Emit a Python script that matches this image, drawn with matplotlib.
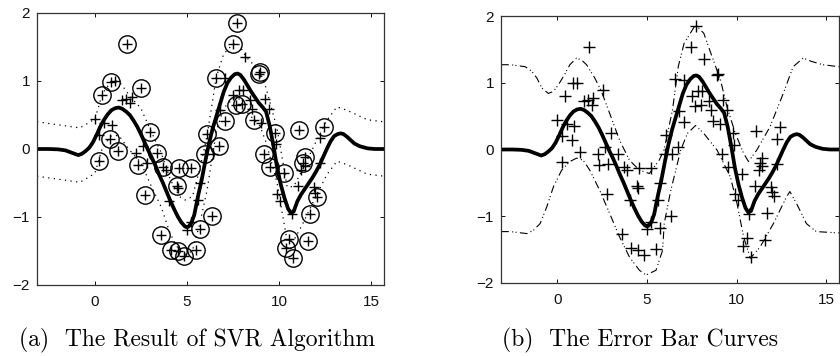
import numpy as np
import matplotlib
matplotlib.use("Agg")
import matplotlib.pyplot as plt

plt.rcParams['font.family'] = ['Liberation Sans', 'DejaVu Sans']

# training points (x, y); support vectors are circled in panel (a)
sv_x = [1.75, 0.89, 0.41, 2.52, 0.80, 0.25, 1.25, 3.02, 3.40, 2.35, 3.70, 2.75,
        4.55, 5.20, 4.45, 3.60, 4.12, 4.50, 4.86, 5.50, 5.70, 6.34, 6.08, 6.00,
        6.74, 7.05, 6.58, 7.48, 7.71, 7.65, 8.02, 8.95, 8.90, 8.67, 9.80, 9.19,
        9.52, 10.30, 10.55, 10.37, 10.78, 11.56, 11.69, 11.10, 12.43, 11.40,
        11.30, 12.08]
sv_y = [1.54, 0.99, 0.80, 0.89, 0.14, -0.18, -0.03, 0.25, -0.06, -0.23, -0.26, -0.67,
        -0.28, -0.28, -0.54, -1.27, -1.48, -1.50, -1.58, -1.49, -1.17, -0.99, 0.22, -0.07,
        0.04, 0.41, 1.05, 1.54, 1.85, 0.65, 0.66, 1.13, 1.11, 0.42, 0.24, -0.07,
        -0.26, -0.36, -1.33, -1.45, -1.61, -1.35, -0.95, 0.28, 0.33, -0.12,
        -0.20, -0.70]
other_x = [1.10, 1.48, 1.72, 2.00, 1.92, 0.00, 0.52, 0.95, 0.24, 2.25, 2.64, 2.85,
           3.87, 4.50, 4.04, 5.00, 5.22, 5.62, 5.72, 6.42, 6.80, 7.05, 8.18, 7.50,
           7.85, 8.05, 8.45, 8.55, 9.25, 9.46, 9.05, 9.83, 9.90, 10.05, 10.69,
           11.05, 12.25, 11.40, 11.22, 11.92, 11.98, 12.24]
other_y = [1.00, 0.72, 0.74, 0.77, 0.67, 0.44, 0.38, 0.35, 0.20, -0.06, 0.04, -0.21,
           -0.31, -0.57, -0.76, -1.19, -1.08, -0.75, -0.50, -0.07, 0.58, 1.04, 1.35, 0.80,
           0.87, 0.87, 0.72, 0.59, 0.74, 0.59, 0.38, 0.07, -0.66, -0.76, -0.96,
           -0.55, 0.16, -0.25, -0.31, -0.56, -0.64, -0.21]

# SVR regression curve
fit_x = [-3.14, -2.5, -2.0, -1.6, -1.2, -0.9, -0.7, -0.5, -0.3, -0.1, 0.1, 0.3, 0.5,
         0.7, 0.9, 1.1, 1.3, 1.5, 1.7, 1.9, 2.1, 2.3, 2.5, 2.7, 2.9, 3.1, 3.3, 3.5,
         3.7, 3.9, 4.1, 4.3, 4.5, 4.7, 4.9, 5.0, 5.1, 5.25, 5.4, 5.6, 5.8, 6.0, 6.2,
         6.4, 6.6, 6.8, 7.0, 7.2, 7.4, 7.6, 7.75, 7.9, 8.1, 8.3, 8.5, 8.7, 8.9, 9.1,
         9.3, 9.5, 9.7, 9.9, 10.1, 10.3, 10.5, 10.65, 10.8, 11.0, 11.2, 11.4, 11.6,
         11.8, 12.0, 12.2, 12.4, 12.6, 12.8, 13.0, 13.2, 13.35, 13.5, 13.7, 13.9,
         14.1, 14.4, 14.8, 15.2, 15.71]
fit_y = [0.0, 0.0, -0.005, -0.02, -0.06, -0.09, -0.07, -0.03, 0.02, 0.10, 0.21, 0.33,
         0.43, 0.51, 0.57, 0.60, 0.61, 0.59, 0.55, 0.50, 0.42, 0.33, 0.22, 0.10, -0.02,
         -0.13, -0.25, -0.38, -0.50, -0.63, -0.76, -0.88, -0.99, -1.08, -1.14, -1.15,
         -1.14, -1.08, -0.97, -0.70, -0.46, -0.18, 0.08, 0.30, 0.48, 0.66, 0.84, 0.97,
         1.05, 1.10, 1.11, 1.09, 1.02, 0.93, 0.84, 0.76, 0.68, 0.62, 0.55, 0.34, 0.05,
         -0.27, -0.52, -0.72, -0.88, -0.94, -0.92, -0.77, -0.67, -0.59, -0.51, -0.43,
         -0.34, -0.24, -0.12, 0.0, 0.11, 0.19, 0.22, 0.23, 0.22, 0.18, 0.13, 0.08,
         0.04, 0.01, 0.0, 0.0]

# centre of the epsilon tube in (a)
tube_x = [-3.14, -0.81, 0.0, 0.2, 0.4, 0.88, 1.3, 1.9, 2.5, 3.07, 3.6, 4.1, 4.6,
          4.9, 5.3, 5.7, 6.1, 6.6, 7.0, 7.5, 7.8, 8.2, 8.97, 9.3, 9.9, 10.45, 10.8,
          11.35, 12.0, 12.6, 13.15, 13.7, 14.8, 15.71]
tube_y = [0.0, -0.09, 0.04, 0.22, 0.41, 0.59, 0.60, 0.38, 0.20, -0.15, -0.45, -0.85,
          -1.10, -1.15, -1.10, -0.70, -0.20, 0.66, 1.00, 1.14, 1.15, 0.96, 0.74, 0.50,
          -0.10, -0.96, -0.95, -0.67, -0.30, 0.02, 0.22, 0.17, 0.03, 0.0]
eps = 0.4

# error bar curves in (b)
upper_x = [-3.14, -2.62, -1.79, -1.42, -1.14, -0.86, -0.5, -0.22, 0.06, 0.33, 0.70,
           1.07, 1.35, 1.63, 2.09, 2.46, 2.92, 3.47, 4.02, 4.58, 5.13, 5.68, 5.96,
           6.42, 6.75, 7.07, 7.71, 8.17, 8.63, 9.10, 9.46, 9.93, 10.39, 10.66, 11.12,
           11.86, 12.60, 13.15, 13.71, 14.17, 14.81, 15.71]
upper_y = [1.27, 1.27, 1.24, 1.17, 1.07, 0.92, 0.84, 0.87, 0.97, 1.09, 1.27, 1.37,
           1.34, 1.27, 1.07, 0.87, 0.54, 0.14, -0.16, -0.31, -0.36, -0.16, 0.0, 0.59,
           1.25, 1.59, 1.87, 1.74, 1.39, 1.04, 0.64, 0.24, -0.06, -0.18, -0.01, 0.34,
           0.84, 1.24, 1.37, 1.32, 1.27, 1.24]
lower_x = [-3.14, -2.62, -1.69, -1.33, -0.96, -0.59, -0.22, 0.24, 0.70, 1.07, 1.44,
           1.81, 2.36, 2.92, 3.47, 4.02, 4.58, 4.95, 5.50, 5.87, 5.96, 6.33, 6.88,
           7.25, 7.71, 8.17, 8.91, 9.65, 10.02, 10.39, 10.76, 11.31, 12.05, 12.78,
           12.97, 13.34, 13.89, 14.44, 15.71]
lower_y = [-1.23, -1.23, -1.26, -1.21, -1.11, -0.86, -0.56, -0.31, -0.18, -0.13, -0.16,
           -0.31, -0.61, -0.96, -1.31, -1.61, -1.81, -1.88, -1.81, -1.51, -1.11, -0.61,
           -0.01, 0.24, 0.36, 0.24, -0.01, -0.41, -0.81, -1.31, -1.63, -1.46, -1.11,
           -0.71, -0.63, -0.81, -1.11, -1.23, -1.25]

xticks = [0, 5, 10, 15]
yticks = [-2, -1, 0, 1, 2]

fig = plt.figure(figsize=(8.4, 3.56), dpi=100)
ax1 = fig.add_axes([37 / 840, 71 / 356, 347 / 840, 272 / 356])
ax2 = fig.add_axes([501 / 840, 73 / 356, 338 / 840, 267 / 356])

tx = np.array(tube_x)
ty = np.array(tube_y)
ax1.plot(tx, ty + eps, color='k', ls=(0, (1, 3.5)), lw=0.9)
ax1.plot(tx, ty - eps, color='k', ls=(0, (1, 3.5)), lw=0.9)
ax1.plot(fit_x, fit_y, color='k', lw=2.7, solid_capstyle='round')
ax1.plot(sv_x + other_x, sv_y + other_y, 'k+', ms=7.5, mew=1.0)
ax1.plot(sv_x, sv_y, 'o', mfc='none', mec='k', ms=12.5, mew=1.0)

ax2.plot(upper_x, upper_y, color='k', ls=(0, (7, 3, 1, 2, 1, 3)), lw=0.8)
ax2.plot(lower_x, lower_y, color='k', ls=(0, (7, 3, 1, 2, 1, 3)), lw=0.8)
ax2.plot(fit_x, fit_y, color='k', lw=2.7, solid_capstyle='round')
ax2.plot(sv_x + other_x, sv_y + other_y, 'k+', ms=8, mew=1.0)

for ax in (ax1, ax2):
    ax.set_xlim(-np.pi, 5 * np.pi)
    ax.set_ylim(-2, 2)
    ax.set_xticks(xticks)
    ax.set_yticks(yticks)
    ax.tick_params(direction='in', length=3, width=0.7, top=True, right=True,
                   labelsize=11, colors='#111111')
    ax.tick_params(axis='x', pad=7)
    ax.tick_params(axis='y', pad=5)
    for s in ax.spines.values():
        s.set_linewidth(0.9)
        s.set_color('#333333')

fig.text(197 / 840, 1 - 340 / 356, "(a)  The Result of SVR Algorithm",
         ha='center', va='center', fontsize=17, family='cmr10')
fig.text(640 / 840, 1 - 340 / 356, "(b)  The Error Bar Curves",
         ha='center', va='center', fontsize=17, family='cmr10')

fig.savefig('out.png', dpi=100)
